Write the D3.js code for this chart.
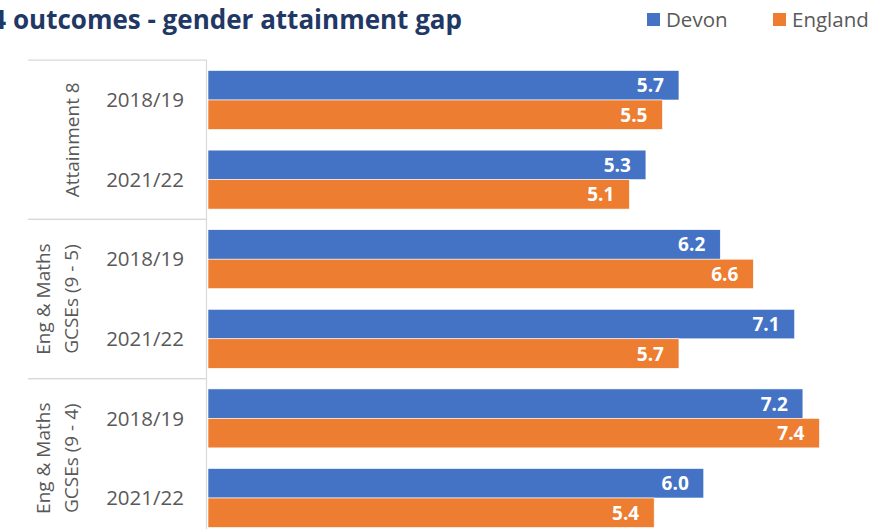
<!DOCTYPE html>
<html><head><meta charset="utf-8">
<script src="https://cdn.jsdelivr.net/npm/d3@7"></script>
<style>
html,body{margin:0;padding:0;background:#fff;overflow:hidden}
svg{display:block;font-family:"Open Sans","Noto Sans",sans-serif}
</style></head>
<body>
<svg id="c" width="895" height="529"></svg>
<script>
const title = "KS4 outcomes - gender attainment gap";
const groups = [["Attainment 8"], ["Eng & Maths", "GCSEs (9 - 5)"], ["Eng & Maths", "GCSEs (9 - 4)"]];
const years = ["2018/19", "2021/22"];
const seriesNames = ["Devon", "England"];
const devon = [5.7, 5.3, 6.2, 7.1, 7.2, 6.0];
const england = [5.5, 5.1, 6.6, 5.7, 7.4, 5.4];
const colors = ["#4472C4", "#ED7D31"];

const svg = d3.select("#c");
const cats = [];
groups.forEach((g, gi) => years.forEach((yr, yi) => cats.push({key: gi + "|" + yr, g: gi, year: yr})));
const rows = cats.map((c, i) => ({...c, values: [devon[i], england[i]]}));

const x = d3.scaleLinear().domain([0, 8]).range([208, 869]);
const y = d3.scaleBand().domain(cats.map(c => c.key)).range([60.2, 60.2 + 79.6 * 6]).padding(0);
const ys = d3.scaleBand().domain(seriesNames).range([0, y.bandwidth()]).paddingInner(0).paddingOuter(0.35);

// Title (left part clipped as in the reference)
svg.append("text").attr("x", 462).attr("y", 29).attr("text-anchor", "end")
  .attr("font-size", 26).attr("font-weight", 700).attr("fill", "#1F3864").text(title);

// Legend
const leg = svg.append("g");
const legX = [647, 773];
seriesNames.forEach((s, i) => {
  leg.append("rect").attr("x", legX[i]).attr("y", 13).attr("width", 13).attr("height", 13).attr("fill", colors[i]);
  leg.append("text").attr("x", legX[i] + 19).attr("y", 27).attr("font-size", 20.5).attr("fill", "#595959").text(s);
});

// Bars
const rowG = svg.append("g").selectAll("g").data(rows).join("g")
  .attr("transform", d => `translate(0,${y(d.key)})`);
rowG.selectAll("rect").data(d => d.values.map((v, i) => ({v, s: seriesNames[i], i}))).join("rect")
  .attr("x", x(0)).attr("y", d => ys(d.s)).attr("width", d => x(d.v) - x(0)).attr("height", ys.bandwidth())
  .attr("fill", d => colors[d.i]).attr("stroke", "#fff").attr("stroke-width", 0.6);
rowG.selectAll("text.val").data(d => d.values.map((v, i) => ({v, s: seriesNames[i], i}))).join("text")
  .attr("class", "val").attr("x", d => x(d.v) - 15).attr("y", d => ys(d.s) + ys.bandwidth() / 2 + 7)
  .attr("text-anchor", "end").attr("font-size", 19).attr("font-weight", 700).attr("fill", "#fff")
  .text(d => d3.format(".1f")(d.v));

// Axis line (category axis)
svg.append("line").attr("x1", 206.5).attr("x2", 206.5).attr("y1", 60).attr("y2", 540)
  .attr("stroke", "#D9D9D9").attr("stroke-width", 1.2);

// Year labels
const yAxis = d3.axisLeft(y).tickSize(0).tickPadding(0).tickFormat(k => k.split("|")[1]);
const ax = svg.append("g").attr("transform", "translate(184,0)").call(yAxis);
ax.select(".domain").remove();
ax.selectAll("text").attr("font-size", 20.5).attr("fill", "#595959").attr("font-family", "'Open Sans','Noto Sans',sans-serif").attr("dy", "0.35em");

// Group separators and labels
groups.forEach((g, gi) => {
  const top = y(cats[gi * 2].key);
  const bot = y(cats[gi * 2 + 1].key) + y.bandwidth();
  svg.append("line").attr("x1", 28).attr("x2", 207).attr("y1", top).attr("y2", top)
    .attr("stroke", "#D9D9D9").attr("stroke-width", 1.2);
  svg.append("line").attr("x1", 28).attr("x2", 207).attr("y1", bot).attr("y2", bot)
    .attr("stroke", "#D9D9D9").attr("stroke-width", 1.2);
  const cy = (top + bot) / 2;
  const xs = g.length === 1 ? [72] : [43, 71];
  g.forEach((line, li) => {
    svg.append("text").attr("transform", `translate(${xs[li]},${cy}) rotate(-90)`)
      .attr("text-anchor", "middle").attr("dy", "0.35em").attr("font-size", 19).attr("fill", "#595959").text(line);
  });
});
</script>
</body></html>
